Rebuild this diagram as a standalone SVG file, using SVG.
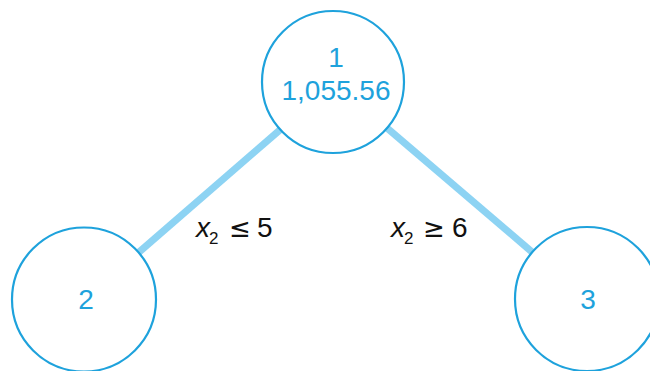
<svg xmlns="http://www.w3.org/2000/svg" width="650" height="371" viewBox="0 0 650 371">
<style>
.node circle{fill:#fff;stroke:#1ea2dc;stroke-width:2.2}
.node text{fill:#1ea2dc;font-family:"Liberation Sans",Arial,sans-serif;font-size:28px;text-anchor:middle}
.edge{stroke:#8dd3f3;stroke-width:7;stroke-linecap:butt}
.lbl{font-family:"Liberation Sans",Arial,sans-serif;font-size:28px;fill:#111}
.sub{font-size:17px}
.rel{font-family:"DejaVu Sans",sans-serif;font-size:26px}
</style>
<rect width="650" height="371" fill="#fff"/>
<g id="connectors">
<line class="edge" x1="281" y1="129" x2="138" y2="253"/>
<line class="edge" x1="387" y1="128" x2="532" y2="252"/>
</g>
<g id="node1" class="node">
<circle cx="333" cy="82" r="71"/>
<text x="336" y="67">1</text>
<text x="336" y="100">1,055.56</text>
</g>
<g id="node2" class="node">
<circle cx="84" cy="299.5" r="72"/>
<text x="86" y="309">2</text>
</g>
<g id="node3" class="node">
<circle cx="587" cy="299" r="72"/>
<text x="588" y="309">3</text>
</g>
<g id="label-left" class="lbl">
<text x="196" y="237"><tspan font-style="italic">x</tspan><tspan class="sub" x="209" y="244">2</tspan><tspan class="rel" x="229" y="237">≤</tspan><tspan x="257" y="237">5</tspan></text>
</g>
<g id="label-right" class="lbl">
<text x="391" y="237"><tspan font-style="italic">x</tspan><tspan class="sub" x="404" y="244">2</tspan><tspan class="rel" x="423" y="237">≥</tspan><tspan x="452" y="237">6</tspan></text>
</g>
</svg>
